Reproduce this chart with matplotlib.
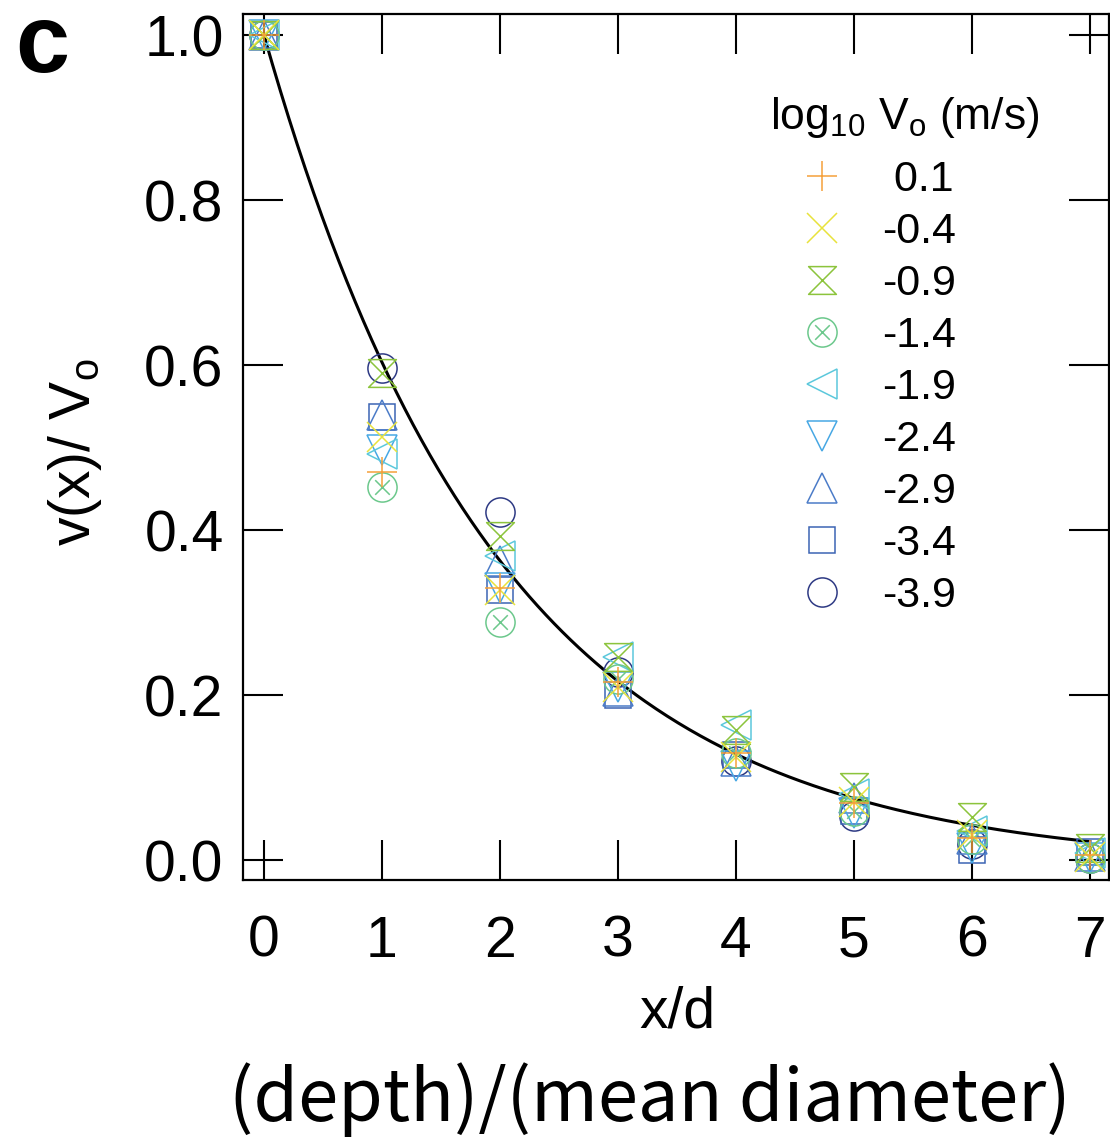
import numpy as np
import matplotlib
matplotlib.use("Agg")
import matplotlib.pyplot as plt
from matplotlib.path import Path

plt.rcParams['font.family'] = ['Liberation Sans', 'DejaVu Sans']
plt.rcParams['mathtext.fontset'] = 'custom'
plt.rcParams['mathtext.rm'] = 'Liberation Sans'
plt.rcParams['mathtext.it'] = 'Liberation Sans:italic'

# depth in units of mean grain diameter
depth = [0, 1, 2, 3, 4, 5, 6, 7]

# log10 of impact speed (legend labels)
speed_labels = [' 0.1', '-0.4', '-0.9', '-1.4', '-1.9', '-2.4', '-2.9', '-3.4', '-3.9']

v_p01 = [1.0, 0.470, 0.330, 0.216, 0.130, 0.069, 0.027, 0.006]
v_m04 = [1.0, 0.513, 0.327, 0.210, 0.125, 0.070, 0.030, 0.004]
v_m09 = [1.0, 0.590, 0.393, 0.246, 0.158, 0.088, 0.052, 0.015]
v_m14 = [1.0, 0.452, 0.289, 0.220, 0.130, 0.060, 0.025, 0.003]
v_m19 = [1.0, 0.492, 0.369, 0.246, 0.164, 0.080, 0.035, 0.008]
v_m24 = [1.0, 0.497, 0.330, 0.210, 0.114, 0.057, 0.015, 0.002]
v_m29 = [1.0, 0.540, 0.362, 0.205, 0.120, 0.075, 0.025, 0.005]
v_m34 = [1.0, 0.537, 0.327, 0.200, 0.127, 0.060, 0.012, 0.010]
v_m39 = [1.0, 0.596, 0.422, 0.228, 0.120, 0.053, 0.020, 0.003]

# exponential fit v/Vo = (1+c) exp(-x / lambda) - c
decay_length = 2.0
fit_offset = 0.008

hourglass = Path([(-1, 1), (1, 1), (-1, -1), (1, -1), (-1, 1)],
                 [Path.MOVETO, Path.LINETO, Path.LINETO, Path.LINETO, Path.CLOSEPOLY])
a = 0.5
circled_x = Path.make_compound_path(
    Path.unit_circle(),
    Path([(-a, -a), (a, a)], [Path.MOVETO, Path.LINETO]),
    Path([(-a, a), (a, -a)], [Path.MOVETO, Path.LINETO]))

series = [v_p01, v_m04, v_m09, v_m14, v_m19, v_m24, v_m29, v_m34, v_m39]
markers = ['+', 'x', hourglass, circled_x, '<', 'v', '^', 's', 'o']
sizes = [21, 21, 20, 21, 22, 22, 22, 19, 21]
colors = ['#f5a03a', '#e8e23c', '#8cc43c', '#6cc88c', '#5cc8dc',
          '#48a8e4', '#4c7cc8', '#3c64b4', '#2e3a84']

fig = plt.figure(figsize=(11.10, 11.37), dpi=100)
ax = fig.add_axes([0.2189, 0.226, 0.780, 0.7617])

xs = np.linspace(0, 7, 300)
ax.plot(xs, (1 + fit_offset) * np.exp(-xs / decay_length) - fit_offset,
        color='black', lw=2.2, zorder=1)

handles = []
for vals, m, ms, c, lab in reversed(list(zip(series, markers, sizes, colors, speed_labels))):
    h, = ax.plot(depth, vals, linestyle='none', marker=m, markersize=ms,
                 markerfacecolor='none', markeredgecolor=c, markeredgewidth=1.1,
                 label=lab, zorder=2)
    handles.append(h)
handles = handles[::-1]

ax.set_xlim(-0.178, 7.161)
ax.set_ylim(-0.0242, 1.0255)
ax.set_xticks(depth)
ax.set_yticks([0.0, 0.2, 0.4, 0.6, 0.8, 1.0])
ax.set_yticklabels(['0.0', '0.2', '0.4', '0.6', '0.8', '1.0'])
ax.tick_params(direction='in', length=29, width=1.5, labelsize=41,
               top=True, right=True)
ax.tick_params(axis='x', pad=25)
ax.tick_params(axis='y', pad=14)
for s in ax.spines.values():
    s.set_linewidth(1.6)

leg = ax.legend(handles=handles, labels=speed_labels,
                loc='upper left', bbox_to_anchor=(770 / 1110, 1 - 160 / 1137),
                bbox_transform=fig.transFigure, frameon=False,
                fontsize=31, handlelength=2.4, handletextpad=0.2,
                labelspacing=0.28, borderpad=0, borderaxespad=0)

fig.text(770 / 1110, 1 - 118 / 1137, r'log$_{10}$ V$_{\mathrm{o}}$ (m/s)',
         ha='left', va='center', fontsize=32)
fig.text(75 / 1110, 1 - 452 / 1137, r'v(x)/ V$_{\mathrm{o}}$', rotation=90,
         ha='center', va='center', fontsize=41)
fig.text(677 / 1110, 1 - 1012 / 1137, 'x/d', ha='center', va='center', fontsize=41)
fig.text(650 / 1110, 1 - 1100 / 1137, '(depth)/(mean diameter)', ha='center',
         va='center', fontsize=52, family=['Noto Sans CJK JP', 'DejaVu Sans'])
fig.text(15 / 1110, 1 - 2 / 1137, 'c', ha='left', va='top', fontsize=70,
         fontweight='bold')

fig.savefig('out.png', dpi=100)
